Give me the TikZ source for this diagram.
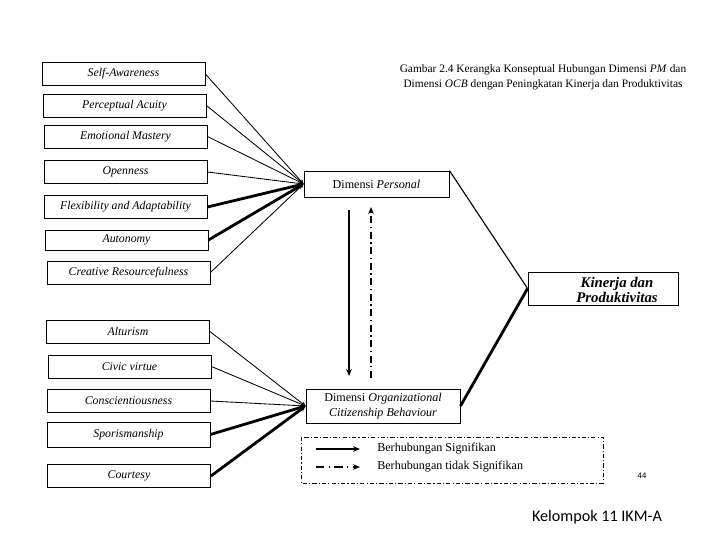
\documentclass[tikz,border=0pt]{standalone}
\usepackage{fontspec}
\setmainfont{Liberation Serif}
\newfontfamily\footfont{Carlito}
\usetikzlibrary{arrows.meta}

\begin{document}
\begin{tikzpicture}[x=0.025cm, y=-0.025cm,
  itembox/.style={draw, line width=0.6pt, minimum width=4.075cm, minimum height=0.575cm,
    inner sep=1pt, font=\fontsize{8.4}{9}\selectfont\itshape},
  dimbox/.style={draw, line width=0.6pt, inner sep=1pt, align=center,
    font=\fontsize{8.6}{10.4}\selectfont},
  thin link/.style={line width=0.6pt, -{Stealth[length=3pt,width=3pt]}},
  thick link/.style={line width=2pt, -{Stealth[length=4pt,width=4pt]}},
  dashdot/.style={dash pattern=on 5pt off 2.5pt on 1pt off 2.5pt}]

  \useasboundingbox (0,0) rectangle (720,540);

  \coordinate (P)  at (376.5,184);
  \coordinate (C)  at (383,406);
  \coordinate (K)  at (603,288.5);
  \coordinate (SD) at (349,210);
  \coordinate (SE) at (349,376);
  \coordinate (DD) at (371,378);
  \coordinate (DE) at (371,207);
  \coordinate (LA) at (316,449);
  \coordinate (LB) at (360,449);
  \coordinate (LC) at (316,467);
  \coordinate (LD) at (360,467);

  % title
  \node (cap) at (543,77.5) [align=center, font=\fontsize{8.1}{10.6}\selectfont]
    {Gambar 2.4 Kerangka Konseptual Hubungan Dimensi \textit{PM} dan\\
     Dimensi \textit{OCB} dengan Peningkatan Kinerja dan Produktivitas};

  % dimension boxes
  \node (per) at (P) [dimbox, minimum width=3.625cm, minimum height=0.65cm]
    {Dimensi \textit{Personal}};
  \node (ocb) at (C) [dimbox, minimum width=3.85cm, minimum height=0.85cm]
    {Dimensi \textit{Organizational}\\ \textit{Citizenship Behaviour}};
  \node (kin) at (K) [draw, line width=0.6pt, minimum width=3.75cm, minimum height=0.825cm] {};
  \node (kintxt) at (617,290) [align=center, inner sep=0pt,
    font=\fontsize{10.5}{10.6}\selectfont\bfseries\itshape] {Kinerja dan\\ Produktivitas};

  % personal items
  \node (sa) at (123.5,74)  [itembox] {Self-Awareness};
  \node (pa) at (124.5,105.5) [itembox] {Perceptual Acuity};
  \node (em) at (125.5,136.5) [itembox] {Emotional Mastery};
  \node (op) at (125.5,172) [itembox] {Openness};
  \node (fa) at (125.5,207) [itembox] {Flexibility and Adaptability};
  \node (au) at (126.5,240) [itembox, minimum height=0.5cm] {Autonomy};
  \node (cr) at (128.5,272.5) [itembox] {Creative Resourcefulness};

  % OCB items
  \node (al) at (128,331.5) [itembox] {Alturism};
  \node (cv) at (129.5,366.5) [itembox] {Civic virtue};
  \node (cs) at (128.5,401) [itembox] {Conscientiousness};
  \node (sp) at (128.5,434.5) [itembox, minimum height=0.625cm] {Sporismanship};
  \node (ct) at (129,476) [itembox] {Courtesy};

  \foreach \n in {sa,pa,em,op,cr}
    \draw[thin link] (\n.east) -- (per.west);
  \foreach \n in {fa,au}
    \draw[thick link] (\n.east) -- (per.west);
  \foreach \n in {al,cv,cs}
    \draw[thin link] (\n.east) -- (ocb.west);
  \foreach \n in {sp,ct}
    \draw[thick link] (\n.east) -- (ocb.west);

  \draw[line width=0.8pt] (per.north east) -- (kin.west);
  \draw[line width=2pt] (kin.west) -- (ocb.east);

  % relations between dimensions
  \draw[line width=1.2pt, -{Stealth[length=5pt,width=4pt]}] (SD) -- (SE);
  \draw[line width=1.2pt, dashdot, -{Stealth[length=5pt,width=4pt]}] (DD) -- (DE);

  % legend
  \draw[line width=0.6pt, dash pattern=on 3pt off 1.5pt on 0.8pt off 1.5pt] (301,437) rectangle (603,483);
  \draw[line width=1.2pt, -{Stealth[length=5pt,width=4pt]}] (LA) -- (LB);
  \draw[line width=1.8pt, dash pattern=on 6pt off 3pt on 1pt off 3pt, -{Stealth[length=5pt,width=4pt]}] (LC) -- (LD);
  \node (sig) at (377,449) [anchor=west, inner sep=0pt, font=\fontsize{8.6}{9}\selectfont] {Berhubungan Signifikan};
  \node (nsig) at (377,467) [anchor=west, inner sep=0pt, font=\fontsize{8.6}{9}\selectfont] {Berhubungan tidak Signifikan};

  \node (pg) at (642,476) [font=\sffamily\fontsize{6}{7}\selectfont] {44};
  \node (foot) at (597,517) [font=\footfont\fontsize{11.5}{13}\selectfont] {Kelompok 11 IKM-A};

\end{tikzpicture}
\end{document}
